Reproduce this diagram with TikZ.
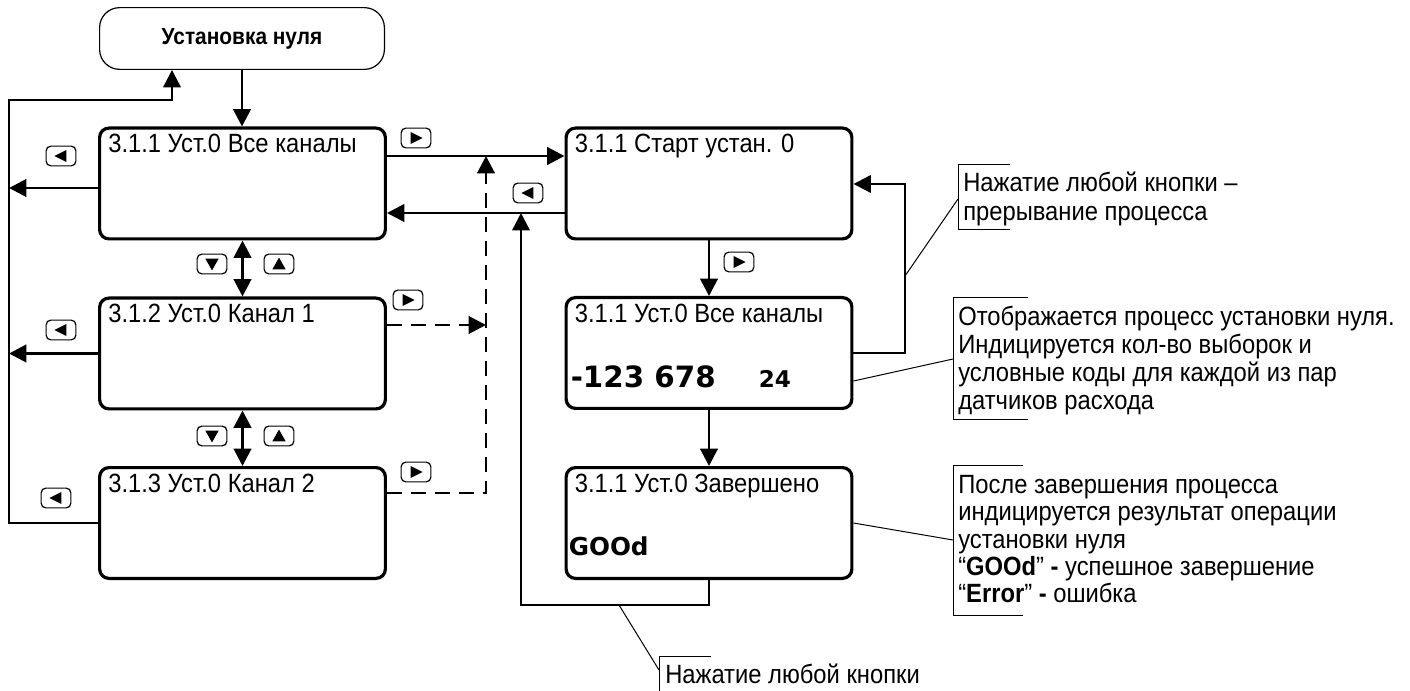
\documentclass[tikz,border=0pt]{standalone}
\usepackage{fontspec}
\setmainfont{Liberation Sans}[FakeStretch=0.9]
\newfontfamily\numfont{DejaVu Sans}
\usetikzlibrary{arrows.meta,calc}
\newcommand{\tfont}{\fontsize{19.8pt}{21pt}\selectfont}
\begin{document}
\begin{tikzpicture}[x=0.75pt,y=-0.75pt,
  >={Triangle[length=13pt,width=13pt]},
  con/.style={line width=2.2pt},
  loopl/.style={line width=1.7pt},
  dsh/.style={line width=2.2pt, dash pattern=on 11pt off 7pt},
  thinl/.style={line width=0.75pt},
  scr/.style={draw, line width=2.4pt, rounded corners=7pt, minimum width=214.3pt, minimum height=83.1pt, inner sep=0pt},
  topbox/.style={draw, line width=0.9pt, rounded corners=15pt, minimum width=213.6pt, minimum height=46.3pt, inner sep=0pt, font=\fontsize{17.4pt}{19pt}\selectfont\bfseries},
  ttl/.style={anchor=base west, inner sep=0pt, font=\tfont},
  note/.style={anchor=base west, inner sep=0pt, font=\tfont},
  btn/.style={draw, line width=0.9pt, rounded corners=3.5pt, minimum width=22.3pt, minimum height=14.8pt, inner sep=0pt},
  bR/.style={btn, path picture={\fill[sharp corners, shift={(path picture bounding box.center)}] (-4pt,-4.5pt) -- (5pt,0pt) -- (-4pt,4.5pt) -- cycle;}},
  bL/.style={btn, path picture={\fill[sharp corners, shift={(path picture bounding box.center)}] (4pt,-4.5pt) -- (-5pt,0pt) -- (4pt,4.5pt) -- cycle;}},
  bD/.style={btn, path picture={\fill[sharp corners, shift={(path picture bounding box.center)}] (-5pt,4pt) -- (5pt,4pt) -- (0pt,-4.8pt) -- cycle;}},
  bU/.style={btn, path picture={\fill[sharp corners, shift={(path picture bounding box.center)}] (-5pt,-4pt) -- (5pt,-4pt) -- (0pt,4.8pt) -- cycle;}}
]
\useasboundingbox (0,0) rectangle (1410,691);

% top node
\node[topbox] (T) at (242,38.5) {Установка нуля};

% screens
\node[scr] (A) at (242.5,183.5) {};
\node[scr] (B) at (242.5,353.5) {};
\node[scr] (C) at (242.5,523) {};
\node[scr] (D) at (709,183.5) {};
\node[scr] (E) at (709,353) {};
\node[scr] (F) at (709,523) {};

\node[ttl] (At) at ($(A.north west)+(10,26)$) {3.1.1 Уст.0 Все каналы};
\node[ttl] (Bt) at ($(B.north west)+(10,26)$) {3.1.2 Уст.0 Канал 1};
\node[ttl] (Ct) at ($(C.north west)+(10,26)$) {3.1.3 Уст.0 Канал 2};
\node[ttl] (Dt) at ($(D.north west)+(10,26.5)$) {3.1.1 Старт устан. 0};
\node[ttl] (Et) at ($(E.north west)+(10,26.5)$) {3.1.1 Уст.0 Все каналы};
\node[ttl] (Ft) at ($(F.north west)+(10,26.5)$) {3.1.1 Уст.0 Завершено};
\node[anchor=base west, inner sep=0pt, font=\numfont\bfseries\fontsize{22pt}{24pt}\selectfont] (En) at ($(E.north west)+(6,92)$) {-123 678};
\node[anchor=base west, inner sep=0pt, font=\numfont\bfseries\fontsize{17.3pt}{20pt}\selectfont] (Ec) at ($(E.north west)+(194,92)$) {24};
\node[anchor=base west, inner sep=0pt, font=\numfont\bfseries\fontsize{18.5pt}{21pt}\selectfont] (Fg) at ($(F.north west)+(4,89)$) {GOOd};

% buttons
\node[bL] (bA) at (61,156) {};
\node[bL] (bB) at (61,330) {};
\node[bL] (bC) at (56,498) {};
\node[bD] (dn1) at (212,264) {};
\node[bU] (up1) at (279,264) {};
\node[bD] (dn2) at (212,436) {};
\node[bU] (up2) at (279,436) {};
\node[bR] (rA) at (416,138) {};
\node[bL] (lD) at (528,193) {};
\node[bR] (rB) at (408,300) {};
\node[bR] (rC) at (416,472) {};
\node[bR] (rD) at (739,262) {};

% helper coordinates
\coordinate (L) at (9,100);
\coordinate (V) at (486,156);
\coordinate (R) at (521,605);
\coordinate (Q) at (905,353);

% connectors, left part
\draw[con,->] (T.south) -- (T.south |- A.north);
\draw[loopl,->] (C.west) -- (C.west -| L) -- (L) -- (172,100) -- (172,0 |- T.south);
\draw[con,->] (A.west |- 0,188) -- (L |- 0,188);
\draw[con,->] (B.west) -- (B.west -| L);
\draw[con,<->] (A.south) -- (B.north);
\draw[con,<->] (B.south) -- (C.north);

% connectors, middle
\draw[con,->] (A.east |- 0,156) -- (D.west |- 0,156);
\draw[con,->] (D.west |- 0,213) -- (A.east |- 0,213);
\draw[dsh,->] (C.east |- 0,493) -- (V |- 0,493) -- (V);
\draw[dsh,->] (B.east |- 0,325) -- (V |- 0,325);
\draw[loopl,->] (F.south) -- (F.south |- R) -- (R) -- (R |- 0,213);

% connectors, right part
\draw[con,->] (D.south) -- (E.north);
\draw[con,->] (E.south) -- (F.north);
\draw[loopl,->] (E.east) -- (Q) -- (Q |- 0,184) -- (D.east |- 0,184);

% annotation 1
\draw[thinl] (1010,165) -- (958,165) -- (958,230) -- (1010,230);
\draw[thinl] (Q |- 0,276) -- (958,199);
\node[note] (n1) at (963,191.5) {\parbox[t]{400pt}{\raggedright\tfont\baselineskip=21.5pt Нажатие любой кнопки –\\прерывание процесса}};

% annotation 2
\draw[thinl] (1028,298) -- (953,298) -- (953,420) -- (1028,420);
\draw[thinl] (E.east |- 0,381) -- (953,359);
\node[note] (n2) at (958,325.5) {\parbox[t]{400pt}{\raggedright\tfont\baselineskip=21pt Отображается процесс установки нуля.\\Индицируется кол-во выборок и\\условные коды для каждой из пар\\датчиков расхода}};

% annotation 3
\draw[thinl] (1023,465) -- (953,465) -- (953,615) -- (1023,615);
\draw[thinl] (F.east |- 0,523) -- (953,540);
\node[note] (n3) at (958,493.5) {\parbox[t]{400pt}{\raggedright\tfont\baselineskip=20.5pt После завершения процесса\\индицируется результат операции\\установки нуля\\“\textbf{GOOd}” \textbf{-} успешное завершение\\“\textbf{Error}” \textbf{-} ошибка}};

% annotation 4
\draw[thinl] (711,656) -- (659,656) -- (659,691);
\draw[thinl] (619,0 |- R) -- (659,670);
\node[note] (n4) at (665,683) {Нажатие любой кнопки};
\end{tikzpicture}
\end{document}
